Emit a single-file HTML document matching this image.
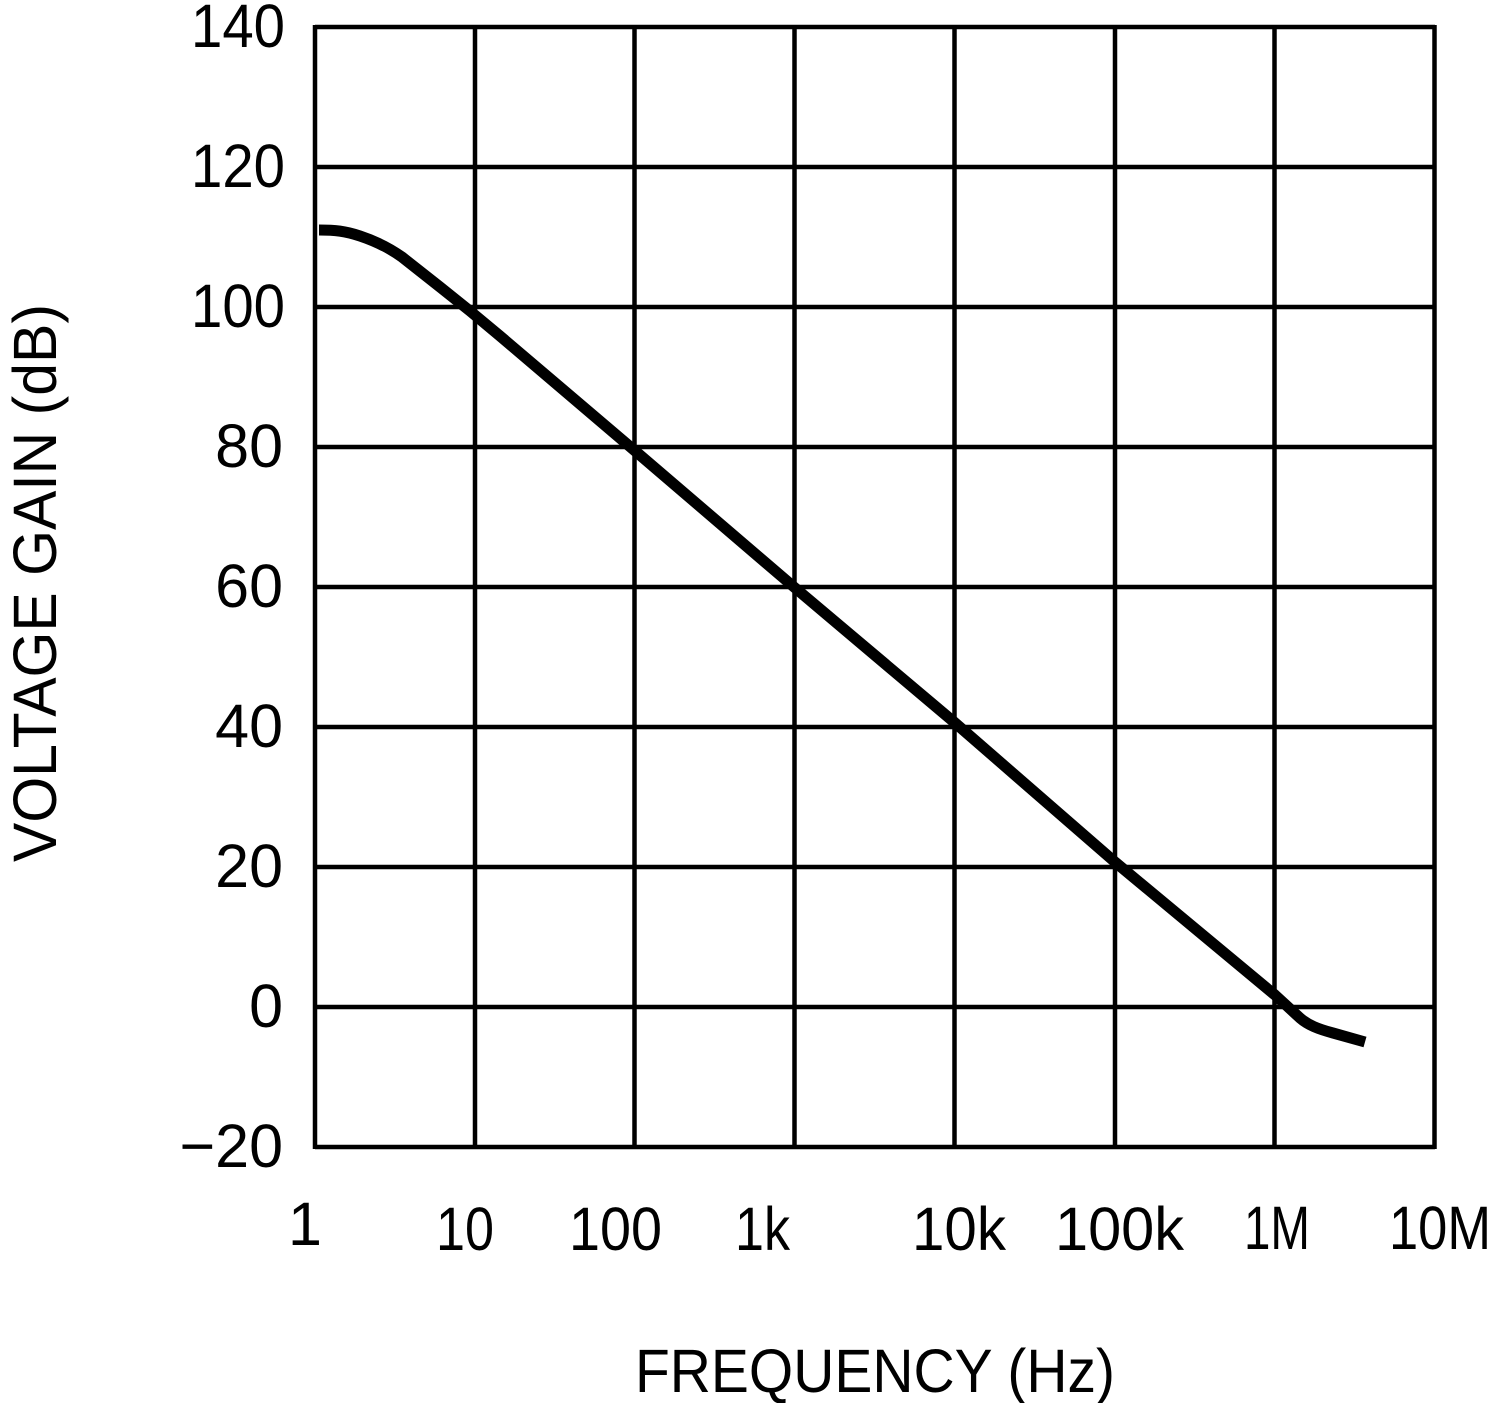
<!DOCTYPE html>
<html>
<head>
<meta charset="utf-8">
<style>
html,body{margin:0;padding:0;background:#fff;}
svg{display:block;}
text{font-family:"Liberation Sans",Arial,sans-serif;fill:#000;}
</style>
</head>
<body>
<svg width="1488" height="1403" viewBox="0 0 1488 1403" xmlns="http://www.w3.org/2000/svg">
<rect width="1488" height="1403" fill="#fff"/>
<g stroke="#000" stroke-width="4.5" fill="none">
<line x1="315" y1="27" x2="1435" y2="27"/>
<line x1="315" y1="167" x2="1435" y2="167"/>
<line x1="315" y1="307" x2="1435" y2="307"/>
<line x1="315" y1="447" x2="1435" y2="447"/>
<line x1="315" y1="587" x2="1435" y2="587"/>
<line x1="315" y1="727" x2="1435" y2="727"/>
<line x1="315" y1="867" x2="1435" y2="867"/>
<line x1="315" y1="1007" x2="1435" y2="1007"/>
<line x1="315" y1="1147" x2="1435" y2="1147"/>
<line x1="315" y1="25" x2="315" y2="1149"/>
<line x1="475" y1="25" x2="475" y2="1149"/>
<line x1="634.5" y1="25" x2="634.5" y2="1149"/>
<line x1="794.5" y1="25" x2="794.5" y2="1149"/>
<line x1="954.5" y1="25" x2="954.5" y2="1149"/>
<line x1="1115" y1="25" x2="1115" y2="1149"/>
<line x1="1274.5" y1="25" x2="1274.5" y2="1149"/>
<line x1="1434.5" y1="25" x2="1434.5" y2="1149"/>
</g>
<path d="M319,230 C335,230 345,231 360,236 C375,241 388,247 402,257 L440,287 L470,311 L500,336 L634,450 L794,587 L954,722 L1115,862 L1275,995 L1287,1006 L1300,1018 C1308,1025 1318,1029 1333,1033 L1365,1042" fill="none" stroke="#000" stroke-width="11" stroke-linejoin="round" stroke-linecap="butt"/>
<g font-size="61" text-anchor="end">
<text x="285" y="47" textLength="94" lengthAdjust="spacingAndGlyphs">140</text>
<text x="285" y="187" textLength="94" lengthAdjust="spacingAndGlyphs">120</text>
<text x="285" y="327" textLength="94" lengthAdjust="spacingAndGlyphs">100</text>
<text x="283" y="467">80</text>
<text x="283" y="607">60</text>
<text x="283" y="747">40</text>
<text x="283" y="887">20</text>
<text x="283" y="1027">0</text>
<text x="283" y="1167">&#8722;20</text>
</g>
<g font-size="61">
<text x="288" y="1245">1</text>
<text x="436" y="1250" textLength="58" lengthAdjust="spacingAndGlyphs">10</text>
<text x="569" y="1250" textLength="93" lengthAdjust="spacingAndGlyphs">100</text>
<text x="735" y="1250" textLength="55" lengthAdjust="spacingAndGlyphs">1k</text>
<text x="912" y="1250" textLength="94" lengthAdjust="spacingAndGlyphs">10k</text>
<text x="1055" y="1250" textLength="129" lengthAdjust="spacingAndGlyphs">100k</text>
<text x="1244" y="1249" textLength="66" lengthAdjust="spacingAndGlyphs">1M</text>
<text x="1389" y="1249" textLength="102" lengthAdjust="spacingAndGlyphs">10M</text>
</g>
<text x="635" y="1392" font-size="61" textLength="480" lengthAdjust="spacingAndGlyphs">FREQUENCY (Hz)</text>
<text transform="translate(56,862) rotate(-90)" x="0" y="0" font-size="61" textLength="558" lengthAdjust="spacingAndGlyphs">VOLTAGE GAIN (dB)</text>
</svg>
</body>
</html>
